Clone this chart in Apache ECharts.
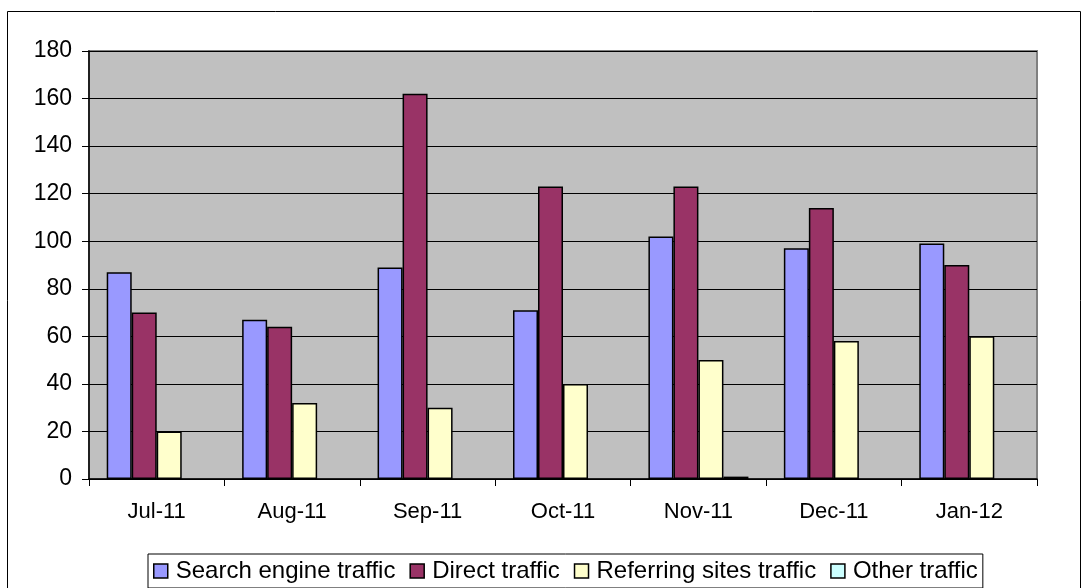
<!DOCTYPE html>
<html>
<head>
<meta charset="utf-8">
<title>Website traffic by month</title>
<script src="https://cdn.jsdelivr.net/npm/echarts@6/dist/echarts.min.js"></script>
<style>
  html, body { margin: 0; padding: 0; background: #fff; }
  #chart { width: 1089px; height: 588px; }
</style>
</head>
<body>
<div id="chart"></div>
<script>
// monthly traffic
const months = ['Jul-11', 'Aug-11', 'Sep-11', 'Oct-11', 'Nov-11', 'Dec-11', 'Jan-12']
const searchEngine = [87, 67, 89, 71, 102, 97, 99]
const direct = [70, 64, 162, 123, 123, 114, 90]
const referring = [20, 32, 30, 40, 50, 58, 60]
const other = [null, null, null, null, 1, null, null]

const seriesNames = ['Search engine traffic', 'Direct traffic', 'Referring sites traffic', 'Other traffic']
const seriesColors = ['#9999FF', '#993366', '#FFFFCC', '#CCFFFF']
const seriesData = [searchEngine, direct, referring, other]

const font = 'Arial, "Liberation Sans", sans-serif'

const chart = echarts.init(document.getElementById('chart'))

chart.setOption({
  backgroundColor: '#fff',
  animation: false,
  textStyle: { fontFamily: font, color: '#000' },
  graphic: [{
    type: 'rect',
    shape: { x: 7.5, y: 11.5, width: 1073, height: 600 },
    style: { fill: 'none', stroke: '#000', lineWidth: 1 },
    silent: true
  }],
  grid: {
    left: 89, right: 52, top: 51, bottom: 109,
    show: true,
    backgroundColor: '#C0C0C0',
    borderColor: '#808080',
    borderWidth: 2
  },
  legend: {
    left: 148,
    top: 554,
    icon: 'rect',
    itemWidth: 14,
    itemHeight: 14,
    itemGap: 14,
    padding: [5, 5, 5, 5],
    borderColor: '#000',
    borderWidth: 1,
    backgroundColor: '#fff',
    textStyle: { fontSize: 24, fontFamily: font, color: '#000', padding: [0, 0, 0, 3] },
    itemStyle: { borderColor: '#000', borderWidth: 1.5 },
    data: seriesNames
  },
  xAxis: {
    type: 'category',
    data: months,
    axisLine: { show: true, lineStyle: { color: '#000', width: 1.5 } },
    axisTick: { show: true, length: 7, alignWithLabel: false, lineStyle: { color: '#000' } },
    axisLabel: { fontSize: 22, color: '#000', margin: 22, fontFamily: font },
    splitLine: { show: false }
  },
  yAxis: {
    type: 'value',
    min: 0,
    max: 180,
    interval: 20,
    axisLine: { show: true, lineStyle: { color: '#000', width: 1.5 } },
    axisTick: { show: true, length: 7, lineStyle: { color: '#000' } },
    axisLabel: { fontSize: 23, color: '#000', margin: 17, fontFamily: font },
    splitLine: { show: true, lineStyle: { color: '#000', width: 1 } }
  },
  series: seriesNames.map((name, i) => ({
    name: name,
    type: 'bar',
    data: seriesData[i],
    barWidth: 25,
    barGap: '0%',
    itemStyle: { color: seriesColors[i], borderColor: '#000', borderWidth: 1.5 }
  }))
})
</script>
</body>
</html>
